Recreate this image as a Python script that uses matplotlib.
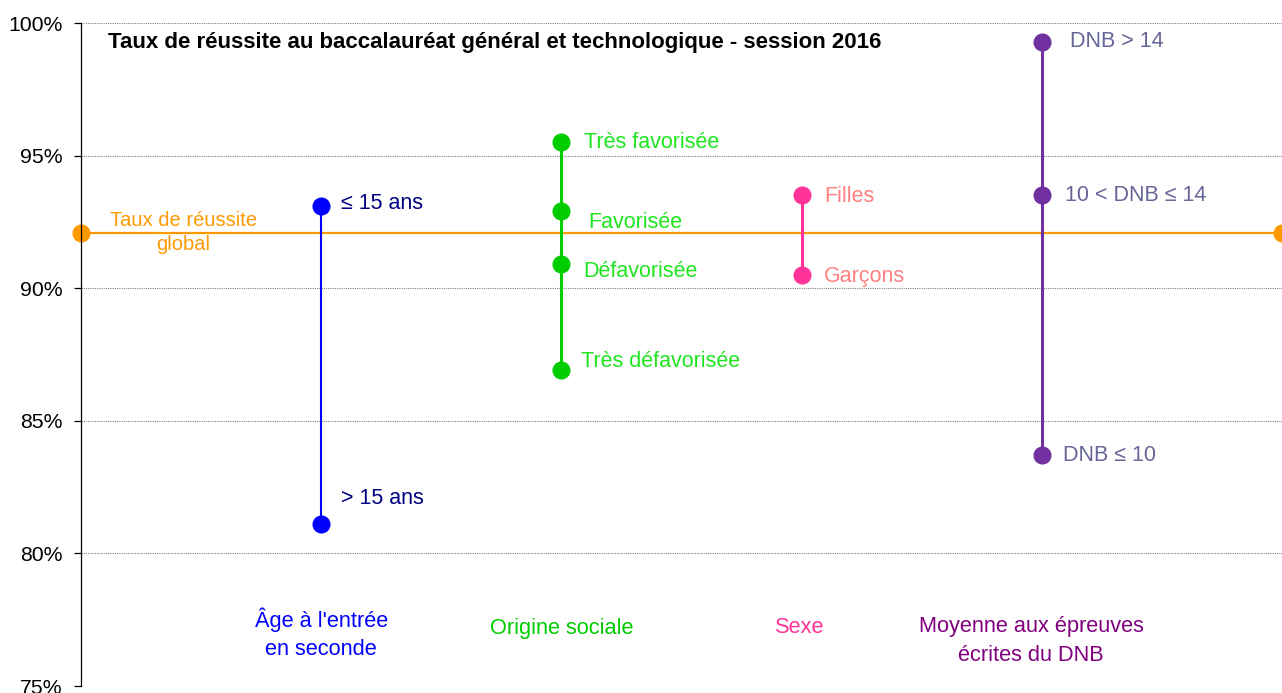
import numpy as np
import matplotlib.pyplot as plt
from matplotlib.ticker import FuncFormatter

plt.rcParams['font.family'] = ['Liberation Sans', 'DejaVu Sans']

# data
categories = ["Âge à l'entrée\nen seconde", "Origine sociale", "Sexe",
              "Moyenne aux épreuves\nécrites du DNB"]
age_labels = ["≤ 15 ans", "> 15 ans"]
age_values = [93.1, 81.1]
social_labels = ["Très favorisée", "Favorisée", "Défavorisée", "Très défavorisée"]
social_values = [95.5, 92.9, 90.9, 86.9]
sex_labels = ["Filles", "Garçons"]
sex_values = [93.5, 90.5]
dnb_labels = ["DNB > 14", "10 < DNB ≤ 14", "DNB ≤ 10"]
dnb_values = [99.3, 93.5, 83.7]
global_rate = 92.1

# styles for each group: line/marker colour, point label colour, category colour,
# line width, label offsets (points)
groups = [
    (age_labels, age_values, "#0000FF", "#000080", "#0000FF", 1.5,
     [(14.4, 2), (14.4, 18.7)]),
    (social_labels, social_values, "#00CC00", "#1EE61E", "#00CC00", 2.2,
     [(16, 0), (19, -8), (16, -5), (14.4, 6.5)]),
    (sex_labels, sex_values, "#FF3399", "#FF8080", "#FF3399", 2.2,
     [(16, -1), (16, -1)]),
    (dnb_labels, dnb_values, "#7030A0", "#666699", "#800080", 2.2,
     [(20, 0), (16.5, 0), (15, 0)]),
]
# where the category captions sit (x shift, y in data units)
cat_pos = [(0.0, 76.96), (0.0, 77.15), (-0.01, 77.19), (-0.045, 76.7)]

fig = plt.figure(figsize=(12.82, 6.93), dpi=100)
ax = fig.add_axes([0.0632, 0.0101, 0.9368, 0.9567])

# global success rate across the whole chart
ax.plot([0, len(categories) + 1], [global_rate, global_rate], color="#FF9900",
        lw=1.6, marker="o", ms=12, clip_on=False, zorder=2)
ax.text(0.425, global_rate, "Taux de réussite\nglobal", color="#FF9900",
        fontsize=14.5, ha="center", va="center", linespacing=1.35)

# one vertical range per category
for i, (labels, values, col, lab_col, cat_col, lw, offsets) in enumerate(groups):
    x = i + 1
    ax.plot([x] * len(values), values, color=col, lw=lw, marker="o", ms=12,
            zorder=3)
    for lab, v, off in zip(labels, values, offsets):
        ax.annotate(lab, (x, v), xytext=off, textcoords="offset points",
                    color=lab_col, fontsize=15.5, ha="left", va="center")
    ax.text(x + cat_pos[i][0], cat_pos[i][1], categories[i], color=cat_col,
            fontsize=15.7, ha="center", va="center", linespacing=1.45)

ax.text(0.112, 99.25, "Taux de réussite au baccalauréat général et technologique - session 2016",
        fontsize=16, fontweight="bold", ha="left", va="center")

# axes styling
ax.set_xlim(0, len(categories) + 1)
ax.set_ylim(75, 100)
ax.set_yticks(np.arange(75, 101, 5))
ax.yaxis.set_major_formatter(FuncFormatter(lambda v, p: f"{v:.0f}%"))
ax.set_xticks([])
ax.grid(axis="y", color="#808080", ls=(0, (1, 1)), lw=0.8)
for side in ["top", "right", "bottom"]:
    ax.spines[side].set_visible(False)
ax.spines["left"].set_linewidth(0.9)
ax.tick_params(axis="y", length=5, width=0.9, pad=8, labelsize=15.3)

fig.savefig("out.png", dpi=100)
